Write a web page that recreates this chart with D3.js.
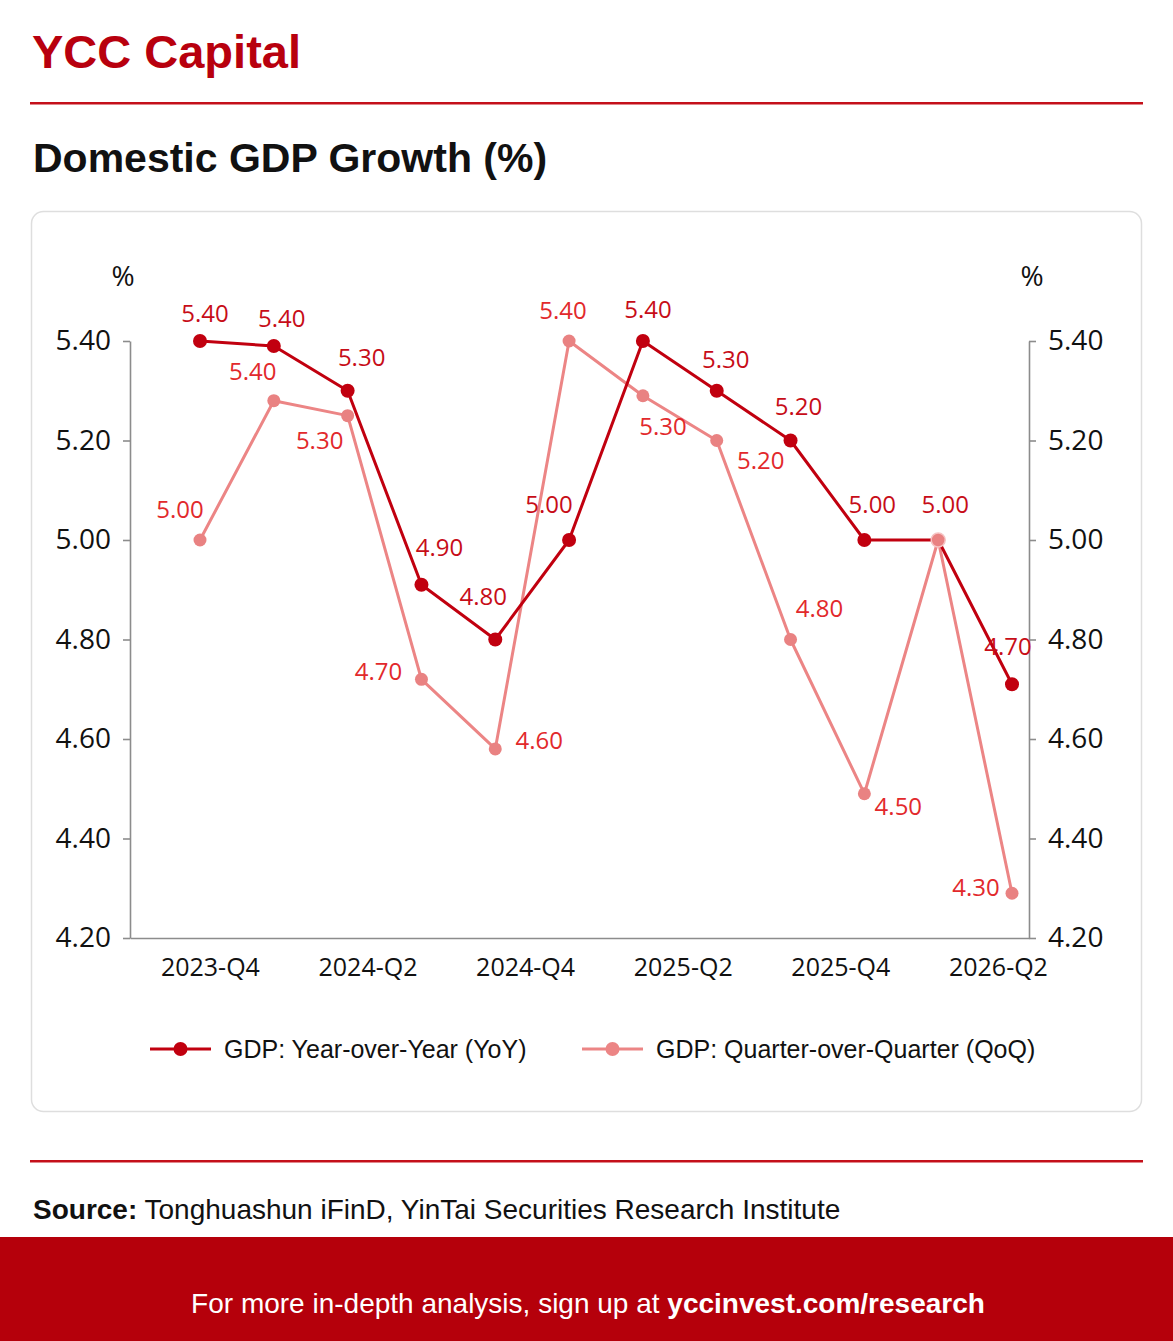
<!DOCTYPE html>
<html>
<head>
<meta charset="utf-8">
<script src="https://cdn.jsdelivr.net/npm/d3@7/dist/d3.min.js"></script>
<style>
  html, body { margin: 0; padding: 0; background: #ffffff; }
  svg { display: block; }
</style>
</head>
<body>
<script>
// ---------------- DATA ----------------
const periods = ["2023-Q3","2023-Q4","2024-Q1","2024-Q2","2024-Q3","2024-Q4",
                 "2025-Q1","2025-Q2","2025-Q3","2025-Q4","2026-Q1","2026-Q2"];
const axisLabels = ["2023-Q4","2024-Q2","2024-Q4","2025-Q2","2025-Q4","2026-Q2"];
const yTicks = [4.2, 4.4, 4.6, 4.8, 5.0, 5.2, 5.4];

const yoyValues = [5.40, 5.39, 5.30, 4.91, 4.80, 5.00, 5.40, 5.30, 5.20, 5.00, 5.00, 4.71];
const yoyLabels = ["5.40","5.40","5.30","4.90","4.80","5.00","5.40","5.30","5.20","5.00","5.00","4.70"];

const qoqValues = [5.00, 5.28, 5.25, 4.72, 4.58, 5.40, 5.29, 5.20, 4.80, 4.49, 5.00, 4.29];
const qoqLabels = ["5.00","5.40","5.30","4.70","4.60","5.40","5.30","5.20","4.80","4.50",null,"4.30"];

const seriesNames = ["GDP: Year-over-Year (YoY)", "GDP: Quarter-over-Quarter (QoQ)"];

// ---------------- LAYOUT / STYLE ----------------
const W = 1173, H = 1341;
const RED = "#b8000e";
const YOY_COLOR = "#c1000f";
const QOQ_COLOR = "#ec8585";
const YOY_LABEL = "#c70d18";
const QOQ_LABEL = "#e2292c";
const AXIS_COLOR = "#8c8c8c";

// label offsets (layout only), relative to each point
const yoyLabelOffset = [[5,-28],[8,-28],[14,-33],[18,-37],[-12,-43],[-20,-36],[5,-32],[9,-31],[8,-34],[8,-36],[7,-36],[-4,-38]];
const qoqLabelOffset = [[-20,-31],[-21,-29],[-28,25],[-43,-8],[44,-9],[-6,-31],[20,31],[44,20],[29,-31],[34,13],null,[-36,-6]];

const plot = { left: 130, right: 1029, top: 341, bottom: 938 };

const svg = d3.select("body").append("svg")
  .attr("width", W).attr("height", H)
  .attr("viewBox", `0 0 ${W} ${H}`);

svg.append("rect").attr("width", W).attr("height", H).attr("fill", "#ffffff");

// Header
svg.append("text")
  .attr("x", 32).attr("y", 68)
  .attr("font-family", "Liberation Sans, Arial, sans-serif")
  .attr("font-weight", "bold").attr("font-size", 47)
  .attr("fill", RED)
  .text("YCC Capital");

svg.append("rect").attr("x", 30).attr("y", 102).attr("width", 1113).attr("height", 2.5).attr("fill", "#c4101a");

svg.append("text")
  .attr("x", 33).attr("y", 172)
  .attr("font-family", "Liberation Sans, Arial, sans-serif")
  .attr("font-weight", "bold").attr("font-size", 41)
  .attr("fill", "#111")
  .text("Domestic GDP Growth (%)");

// Card
svg.append("rect")
  .attr("x", 31.5).attr("y", 211.5).attr("width", 1110).attr("height", 900)
  .attr("rx", 12).attr("ry", 12)
  .attr("fill", "#ffffff").attr("stroke", "#dedede").attr("stroke-width", 1.5);

// Scales
const y = d3.scaleLinear().domain([4.2, 5.4]).range([plot.bottom, plot.top]);
const xData = d3.scalePoint().domain(periods).range([plot.left + 70, plot.right - 17]);
const xAxisScale = d3.scalePoint().domain(axisLabels)
  .range([plot.left, plot.right]).padding(0.352).align(0.72);

const g = svg.append("g");

// Y axes
const fmt = d3.format(".2f");
const leftAxis = g.append("g")
  .attr("transform", `translate(${plot.left},0)`)
  .call(d3.axisLeft(y).tickValues(yTicks).tickFormat(fmt).tickSize(7).tickSizeOuter(0).tickPadding(12));
const rightAxis = g.append("g")
  .attr("transform", `translate(${plot.right},0)`)
  .call(d3.axisRight(y).tickValues(yTicks).tickFormat(fmt).tickSize(7).tickSizeOuter(0).tickPadding(12));
[leftAxis, rightAxis].forEach(a => {
  a.select(".domain").attr("stroke", AXIS_COLOR).attr("stroke-width", 1.6);
  a.selectAll(".tick line").attr("stroke", AXIS_COLOR).attr("stroke-width", 1.6);
  a.selectAll(".tick text")
    .attr("font-family", "Open Sans, Noto Sans, sans-serif")
    .attr("font-size", 28).attr("fill", "#111");
});

// X axis
const bottomAxis = g.append("g")
  .attr("transform", `translate(0,${plot.bottom})`)
  .call(d3.axisBottom(xAxisScale).tickSize(0).tickSizeOuter(0).tickPadding(20));
bottomAxis.select(".domain").attr("stroke", AXIS_COLOR).attr("stroke-width", 1.6);
bottomAxis.selectAll(".tick text")
  .attr("font-family", "Open Sans, Noto Sans, sans-serif")
  .attr("font-size", 25).attr("fill", "#111");

// % unit labels
[[plot.left - 7, "%"], [plot.right + 3, "%"]].forEach(([x, t]) => {
  g.append("text").attr("x", x).attr("y", 286)
    .attr("text-anchor", "middle")
    .attr("font-family", "Open Sans, Noto Sans, sans-serif")
    .attr("font-size", 28).attr("fill", "#111").text(t);
});

// Lines
const lineYoY = d3.line().x((d, i) => xData(periods[i])).y(d => y(d));
const lineQoQ = d3.line().x((d, i) => xData(periods[i])).y(d => y(d));

g.append("path").datum(qoqValues)
  .attr("d", lineQoQ).attr("fill", "none")
  .attr("stroke", QOQ_COLOR).attr("stroke-width", 3).attr("stroke-linejoin", "round");
g.selectAll("circle.qoq").data(qoqValues).join("circle")
  .attr("class", "qoq")
  .attr("cx", (d, i) => xData(periods[i])).attr("cy", d => y(d))
  .attr("r", 6.5).attr("fill", "#e98282");

g.append("path").datum(yoyValues)
  .attr("d", lineYoY).attr("fill", "none")
  .attr("stroke", YOY_COLOR).attr("stroke-width", 3).attr("stroke-linejoin", "round");
g.selectAll("circle.yoy").data(yoyValues).join("circle")
  .attr("class", "yoy")
  .attr("cx", (d, i) => xData(periods[i])).attr("cy", d => y(d))
  .attr("r", 7).attr("fill", YOY_COLOR);

// shared point: QoQ marker drawn on top where both series meet
g.selectAll("circle.qoqTop").data(qoqValues.map((v, i) => ({ v, i })).filter(d => Math.abs(d.v - yoyValues[d.i]) < 0.005))
  .join("circle")
  .attr("cx", d => xData(periods[d.i])).attr("cy", d => y(d.v))
  .attr("r", 7).attr("fill", "#e98282").attr("stroke", "#f6c4c4").attr("stroke-width", 1.5);

// Data labels
const labelFont = "Open Sans, Noto Sans, sans-serif";
g.selectAll("text.yoyLab").data(yoyValues.map((v, i) => ({ v, i })))
  .join("text")
  .attr("x", d => xData(periods[d.i]) + yoyLabelOffset[d.i][0])
  .attr("y", d => y(d.v) + yoyLabelOffset[d.i][1])
  .attr("dy", "0.36em").attr("text-anchor", "middle")
  .attr("font-family", labelFont).attr("font-size", 24).attr("fill", YOY_LABEL)
  .text(d => yoyLabels[d.i]);

g.selectAll("text.qoqLab").data(qoqValues.map((v, i) => ({ v, i })).filter(d => qoqLabels[d.i] !== null))
  .join("text")
  .attr("x", d => xData(periods[d.i]) + qoqLabelOffset[d.i][0])
  .attr("y", d => y(d.v) + qoqLabelOffset[d.i][1])
  .attr("dy", "0.36em").attr("text-anchor", "middle")
  .attr("font-family", labelFont).attr("font-size", 24).attr("fill", QOQ_LABEL)
  .text(d => qoqLabels[d.i]);

// Legend
const legendItems = [
  { name: seriesNames[0], color: YOY_COLOR, x: 150 },
  { name: seriesNames[1], color: QOQ_COLOR, x: 582 }
];
const legY = 1049;
const leg = svg.append("g");
legendItems.forEach(it => {
  const li = leg.append("g").attr("transform", `translate(${it.x},${legY})`);
  li.append("line").attr("x1", 0).attr("x2", 61).attr("y1", 0).attr("y2", 0)
    .attr("stroke", it.color).attr("stroke-width", 3);
  li.append("circle").attr("cx", 30.5).attr("cy", 0).attr("r", 7).attr("fill", it.color);
  li.append("text").attr("x", 74).attr("y", 0).attr("dy", "0.36em")
    .attr("font-family", "Liberation Sans, Arial, sans-serif")
    .attr("font-size", 25).attr("fill", "#111").text(it.name);
});

// Footer
svg.append("rect").attr("x", 30).attr("y", 1160).attr("width", 1113).attr("height", 2.5).attr("fill", "#c4101a");

const src = svg.append("text").attr("x", 33).attr("y", 1219)
  .attr("font-family", "Liberation Sans, Arial, sans-serif")
  .attr("font-size", 28).attr("fill", "#111");
src.append("tspan").attr("font-weight", "bold").text("Source:");
src.append("tspan").text(" Tonghuashun iFinD, YinTai Securities Research Institute");

svg.append("rect").attr("x", 0).attr("y", 1237).attr("width", W).attr("height", H - 1237).attr("fill", "#b5000b");
const ft = svg.append("text").attr("x", 588).attr("y", 1313)
  .attr("text-anchor", "middle")
  .attr("font-family", "Liberation Sans, Arial, sans-serif")
  .attr("font-size", 28).attr("fill", "#ffffff");
ft.append("tspan").text("For more in-depth analysis, sign up at ");
ft.append("tspan").attr("font-weight", "bold").text("yccinvest.com/research");
</script>
</body>
</html>
